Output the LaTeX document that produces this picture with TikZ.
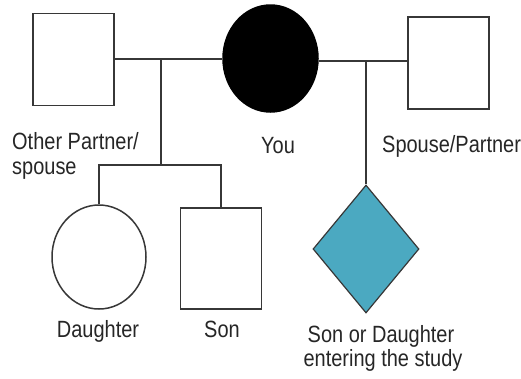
\documentclass[tikz,border=0pt]{standalone}
\usepackage{fontspec}
\usetikzlibrary{shapes.geometric}
\newfontfamily\lblfont[FakeStretch=0.85]{Liberation Sans}
\definecolor{ln}{RGB}{55,55,55}
\definecolor{teal1}{RGB}{75,169,193}
\begin{document}
\begin{tikzpicture}[x=1pt,y=-1pt,
  person/.style={draw=ln,line width=1.5pt,inner sep=0pt},
  male/.style={person,rectangle},
  female/.style={person,ellipse},
  unknown/.style={person,diamond,fill=teal1,line width=1.2pt},
  link/.style={draw=ln,line width=1.4pt},
  lbl/.style={font=\lblfont\fontsize{23.5}{25}\selectfont,text=black!85,inner sep=0pt}]
\useasboundingbox (0,0) rectangle (521,378);
% people
\node[male,minimum width=81pt,minimum height=92pt] (other) at (73.5,59.5) {};
\node[female,fill=black,draw=black,minimum width=95pt,minimum height=107pt] (you) at (270.5,58.5) {};
\node[male,minimum width=81pt,minimum height=92pt] (spouse) at (448.5,63) {};
\node[female,minimum width=94pt,minimum height=104pt] (daughter) at (99,257) {};
\node[male,minimum width=81pt,minimum height=101pt] (son) at (221,258.5) {};
\node[unknown,minimum width=106pt,minimum height=128pt] (child) at (366,249) {};
% connectors
\coordinate (m1) at (161,59);
\coordinate (m2) at (366,61);
\coordinate (sib) at (161,165);
\draw[link] (m1 -| other.east) -- (m1 -| you.west);
\draw[link] (m2 -| you.east) -- (m2 -| spouse.west);
\draw[link] (m1) -- (sib);
\draw[link] (daughter.north) |- (sib) -| (son.north);
\draw[link] (m2) -- (child.north);
% labels
\node[lbl,anchor=base west] (lo1) at (12,149) {Other Partner/};
\node[lbl,anchor=base west] (lo2) at (12,174) {spouse};
\node[lbl,anchor=base] (ly) at (278,153) {You};
\node[lbl,anchor=base west] (ls) at (382,152) {Spouse/Partner};
\node[lbl,anchor=base] (ld) at (98,337) {Daughter};
\node[lbl,anchor=base] (lso) at (222,337) {Son};
\node[lbl,anchor=base] (lc1) at (381,342) {Son or Daughter};
\node[lbl,anchor=base] (lc2) at (383,366) {entering the study};
\end{tikzpicture}
\end{document}
